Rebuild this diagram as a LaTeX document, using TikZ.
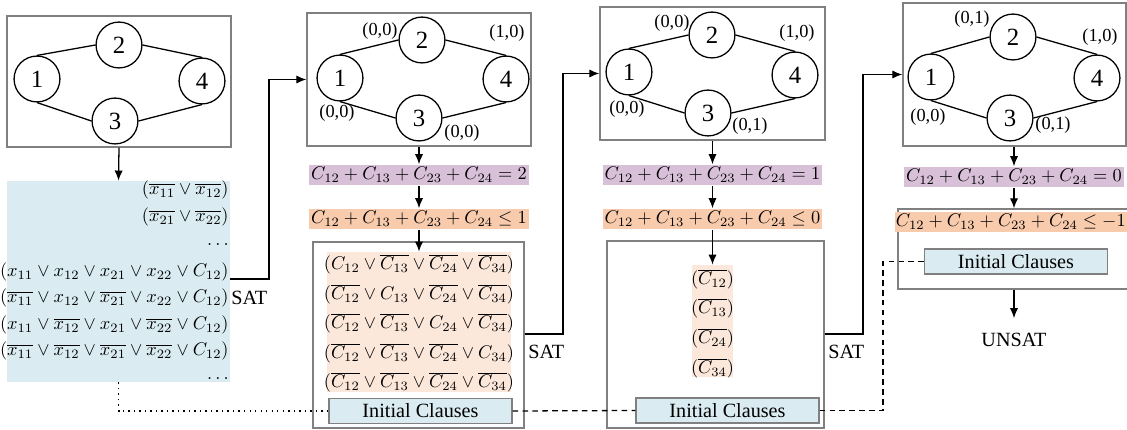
\documentclass[tikz,border=0pt]{standalone}
\usepackage[no-math]{fontspec}
\setmainfont{Liberation Serif}
\usetikzlibrary{arrows.meta,fit}
\definecolor{blueF}{RGB}{218,236,242}
\definecolor{purpF}{RGB}{216,193,216}
\definecolor{orgF}{RGB}{249,203,173}
\definecolor{lorgF}{RGB}{252,232,219}
\definecolor{boxgray}{RGB}{128,128,128}
\begin{document}
\begin{tikzpicture}[x=0.545pt,y=-0.545pt,
  gnode/.style={circle,draw,line width=0.7pt,minimum size=25pt,inner sep=0pt,font=\fontsize{13.5}{15}\selectfont},
  gedge/.style={line width=0.7pt},
  panel/.style={draw=boxgray,line width=0.7pt,inner sep=0pt},
  lbl/.style={font=\fontsize{10}{12}\selectfont,inner sep=0pt},
  eqp/.style={fill=purpF,inner xsep=1pt,inner ysep=1.5pt},
  eqo/.style={fill=orgF,inner xsep=1pt,inner ysep=1.5pt},
  rowr/.style={anchor=base east,inner sep=0pt},
  rowc/.style={anchor=base,inner sep=0pt},
  initbox/.style={fill=blueF,draw=boxgray,line width=0.7pt,inner sep=0pt,
    minimum width=99.7pt,minimum height=13.6pt,font=\fontsize{11}{13}\selectfont},
  txt/.style={font=\fontsize{11}{13}\selectfont,inner sep=0pt},
  conn/.style={line width=0.7pt},
  arr/.style={line width=0.7pt,-{Latex[length=5.5pt,width=4.5pt]}},
  dsh/.style={line width=0.7pt,dash pattern=on 3pt off 2.4pt},
  dtt/.style={line width=0.8pt,dash pattern=on 0.8pt off 2.2pt}
]
\useasboundingbox (0,0) rectangle (1127,430);
\clip (0,0) rectangle (1127,430);

% ---------- Panel 1 ----------
\node[panel,fit={(7,16) (231,147)}] (p1) {};
\node[gnode] (a1) at (37,79) {1};
\node[gnode] (a2) at (119,45) {2};
\node[gnode] (a3) at (115,121) {3};
\node[gnode] (a4) at (202,81) {4};
\draw[gedge] (a1.north) -- (a2.west);
\draw[gedge] (a2.east) -- (a4.north);
\draw[gedge] (a1.south) -- (a3.west);
\draw[gedge] (a3.east) -- (a4.south);

\node[fit={(7,181) (230,382)},fill=blueF,inner sep=0pt] (cl1) {};
\node[rowr] (r11) at (229,195) {$(\overline{x_{11}}\vee\overline{x_{12}})$};
\node[rowr] (r12) at (229,222) {$(\overline{x_{21}}\vee\overline{x_{22}})$};
\node[rowr] (r13) at (229,246) {$\dots$};
\node[rowr] (r14) at (229,277) {$(x_{11}\vee x_{12}\vee x_{21}\vee x_{22}\vee C_{12})$};
\node[rowr] (r15) at (229,303) {$(\overline{x_{11}}\vee x_{12}\vee\overline{x_{21}}\vee x_{22}\vee C_{12})$};
\node[rowr] (r16) at (229,330) {$(x_{11}\vee\overline{x_{12}}\vee x_{21}\vee\overline{x_{22}}\vee C_{12})$};
\node[rowr] (r17) at (229,356) {$(\overline{x_{11}}\vee\overline{x_{12}}\vee\overline{x_{21}}\vee\overline{x_{22}}\vee C_{12})$};
\node[rowr] (r18) at (229,380) {$\dots$};
\draw[arr] (p1.south) -- (cl1.north);

% ---------- Panel 2 ----------
\node[panel,fit={(307,13) (531,146)}] (p2) {};
\node[gnode] (b1) at (340,78) {1};
\node[gnode] (b2) at (422,40) {2};
\node[gnode] (b3) at (419,118) {3};
\node[gnode] (b4) at (506,79) {4};
\draw[gedge] (b1.north) -- (b2.west);
\draw[gedge] (b2.east) -- (b4.north);
\draw[gedge] (b1.south) -- (b3.west);
\draw[gedge] (b3.east) -- (b4.south);
\node[lbl] (lb2) at (380,31) {(0,0)};
\node[lbl] (lb4) at (507,33) {(1,0)};
\node[lbl] (lb1) at (337,113) {(0,0)};
\node[lbl] (lb3) at (462,133) {(0,0)};

\node[eqp] (e2) at (419,175) {$C_{12}+C_{13}+C_{23}+C_{24}=2$};
\node[eqo] (f2) at (419,219) {$C_{12}+C_{13}+C_{23}+C_{24}\le 1$};
\node[panel,fit={(313,242) (524,428)}] (o2) {};
\node[fit={(327,252) (511,392)},fill=lorgF,inner sep=0pt] (cl2) {};
\node[rowc] (r21) at (419,270) {$(C_{12}\vee\overline{C_{13}}\vee\overline{C_{24}}\vee\overline{C_{34}})$};
\node[rowc] (r22) at (419,300) {$(\overline{C_{12}}\vee C_{13}\vee\overline{C_{24}}\vee\overline{C_{34}})$};
\node[rowc] (r23) at (419,329) {$(\overline{C_{12}}\vee\overline{C_{13}}\vee C_{24}\vee\overline{C_{34}})$};
\node[rowc] (r24) at (419,359) {$(\overline{C_{12}}\vee\overline{C_{13}}\vee\overline{C_{24}}\vee C_{34})$};
\node[rowc] (r25) at (419,388) {$(\overline{C_{12}}\vee\overline{C_{13}}\vee\overline{C_{24}}\vee\overline{C_{34}})$};
\node[initbox] (i2) at (420.5,411) {Initial Clauses};
\draw[arr] (p2.south) -- (e2.north);
\draw[arr] (e2.south) -- (f2.north);
\draw[arr] (f2.south) -- (cl2.north);

% ---------- Panel 3 ----------
\node[panel,fit={(600,7) (825,140)}] (p3) {};
\node[gnode] (c1) at (629,72) {1};
\node[gnode] (c2) at (712,35) {2};
\node[gnode] (c3) at (708,113) {3};
\node[gnode] (c4) at (795,75) {4};
\draw[gedge] (c1.north) -- (c2.west);
\draw[gedge] (c2.east) -- (c4.north);
\draw[gedge] (c1.south) -- (c3.west);
\draw[gedge] (c3.east) -- (c4.south);
\node[lbl] (lc2) at (672,23) {(0,0)};
\node[lbl] (lc4) at (797,33) {(1,0)};
\node[lbl] (lc1) at (627,109) {(0,0)};
\node[lbl] (lc3) at (750,126) {(0,1)};

\node[eqp] (e3) at (712.5,175) {$C_{12}+C_{13}+C_{23}+C_{24}=1$};
\node[eqo] (f3) at (712.5,219) {$C_{12}+C_{13}+C_{23}+C_{24}\le 0$};
\node[panel,fit={(607,241) (824,428)}] (o3) {};
\node[fit={(692,265) (733,377)},fill=lorgF,inner sep=0pt] (cl3) {};
\node[rowc] (r31) at (712.5,285) {$(\overline{C_{12}})$};
\node[rowc] (r32) at (712.5,314) {$(\overline{C_{13}})$};
\node[rowc] (r33) at (712.5,344) {$(\overline{C_{24}})$};
\node[rowc] (r34) at (712.5,374) {$(\overline{C_{34}})$};
\node[initbox] (i3) at (727.5,410.5) {Initial Clauses};
\draw[arr] (p3.south) -- (e3.north);
\draw[arr] (e3.south) -- (f3.north);
\draw[arr] (f3.south) -- (cl3.north);

% ---------- Panel 4 ----------
\node[panel,fit={(903,3) (1126,146)}] (p4) {};
\node[gnode] (d1) at (931,77) {1};
\node[gnode] (d2) at (1013,37) {2};
\node[gnode] (d3) at (1010,118) {3};
\node[gnode] (d4) at (1097,78) {4};
\draw[gedge] (d1.north) -- (d2.west);
\draw[gedge] (d2.east) -- (d4.north);
\draw[gedge] (d1.south) -- (d3.west);
\draw[gedge] (d3.east) -- (d4.south);
\node[lbl] (ld2) at (972,19) {(0,1)};
\node[lbl] (ld4) at (1100,37) {(1,0)};
\node[lbl] (ld1) at (928,117) {(0,0)};
\node[lbl] (ld3) at (1053,125) {(0,1)};

\node[eqp] (e4) at (1014,177) {$C_{12}+C_{13}+C_{23}+C_{24}=0$};
\node[panel,fit={(898,209) (1140,289)}] (o4) {};
\node[eqo,anchor=east,inner xsep=0.5pt] (f4) at (1127,222) {$C_{12}+C_{13}+C_{23}+C_{24}\le -1$};
\node[initbox] (i4) at (1016,261.5) {Initial Clauses};
\node[txt,inner ysep=8pt] (unsat) at (1014,340) {UNSAT};
\draw[arr] (p4.south -| e4.north) -- (e4.north);
\draw[arr] (e4.south) -- (e4.south |- o4.north);
\draw[arr] (e4.south |- o4.south) -- (unsat.north);

% ---------- SAT connectors ----------
\coordinate (k1) at (269,279);
\coordinate (k2) at (563,334);
\coordinate (k3) at (863,334);
\draw[arr] (cl1.east |- k1) -- (k1) |- (p2.west);
\draw[arr] (o2.east |- k2) -- (k2) |- (p3.west);
\draw[arr] (o3.east |- k3) -- (k3) |- (p4.west);
\node[txt,anchor=west] (sat1) at (231,298) {SAT};
\node[txt,anchor=west] (sat2) at (528,352) {SAT};
\node[txt,anchor=west] (sat3) at (828,352) {SAT};

% ---------- Initial-clause links ----------
\coordinate (k4) at (883,330);
\draw[dtt] (cl1.south) |- (i2.west);
\draw[dsh] (i2.east) -- (i3.west);
\draw[dsh] (i3.east) -| (k4) |- (i4.west);
\end{tikzpicture}
\end{document}
